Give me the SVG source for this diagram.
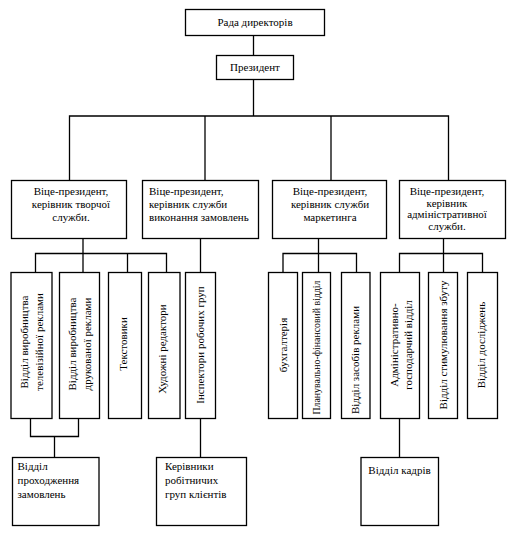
<svg xmlns="http://www.w3.org/2000/svg" width="507" height="535" viewBox="0 0 507 535" font-family="'Liberation Serif', 'Times New Roman', serif" font-size="11">
<style>
rect{fill:#fff;stroke:#000;stroke-width:1.3}
.c line,.c polyline{stroke:#000;stroke-width:1.3;fill:none}
text{font-family:'Liberation Serif','Times New Roman',serif;font-size:11px;fill:#000}
.m{text-anchor:middle}
</style>
<rect x="0" y="0" width="507" height="535" style="stroke:none"/>
<g class="c" id="connectors">
<line x1="253.5" y1="35" x2="253.5" y2="55"/>
<line x1="253.5" y1="79" x2="253.5" y2="116"/>
<polyline points="69.5,180 69.5,116 448.5,116 448.5,180"/>
<line x1="205" y1="116" x2="205" y2="180"/>
<line x1="331" y1="116" x2="331" y2="180"/>
<line x1="83" y1="238" x2="83" y2="253.5"/>
<polyline points="35.5,272 35.5,253.5 166.5,253.5 166.5,272"/>
<line x1="83" y1="253.5" x2="83" y2="272"/>
<line x1="127.5" y1="253.5" x2="127.5" y2="272"/>
<line x1="200.5" y1="238" x2="200.5" y2="272"/>
<line x1="318.5" y1="238" x2="318.5" y2="272"/>
<polyline points="283,272 283,253.5 356.5,253.5 356.5,272"/>
<line x1="443.5" y1="238" x2="443.5" y2="272"/>
<polyline points="399.5,272 399.5,253.5 482.5,253.5 482.5,272"/>
<polyline points="30.5,418 30.5,436.5 78.5,436.5 78.5,418"/>
<line x1="54.5" y1="436.5" x2="54.5" y2="457"/>
<line x1="200.5" y1="418" x2="200.5" y2="457"/>
<line x1="399.5" y1="418" x2="399.5" y2="457"/>
</g>
<g id="rada"><rect x="185.5" y="9.5" width="139" height="26"/><text class="m" x="255" y="26">Рада директорів</text></g>
<g id="president"><rect x="216.5" y="55.5" width="77" height="24"/><text class="m" x="255" y="71">Президент</text></g>
<g id="vp1"><rect x="11.5" y="180.5" width="115" height="58"/><text class="m" x="71" y="195">Віце-президент,</text><text class="m" x="71" y="208">керівник творчої</text><text class="m" x="71" y="221">служби.</text></g>
<g id="vp2"><rect x="142.5" y="180.5" width="116" height="58"/><text x="149" y="195">Віце-президент,</text><text x="149" y="208">керівник служби</text><text x="149" y="221">виконання замовлень</text></g>
<g id="vp3"><rect x="272.5" y="180.5" width="114" height="58"/><text class="m" x="330" y="195">Віце-президент,</text><text class="m" x="330" y="208">керівник служби</text><text class="m" x="330" y="221">маркетинга</text></g>
<g id="vp4"><rect x="399.5" y="180.5" width="106" height="58"/><text class="m" x="447" y="195">Віце-президент,</text><text class="m" x="447" y="207">керівник</text><text class="m" x="447" y="218">адміністративної</text><text class="m" x="447" y="230">служби.</text></g>
<g id="tv"><rect x="11" y="272.5" width="41" height="146"/><g transform="translate(31.7,342) rotate(-90)"><text class="m" x="0" y="-4">Відділ виробництва</text><text class="m" x="0" y="11">телевізійної реклами</text></g></g>
<g id="print"><rect x="59.5" y="272.5" width="40" height="146"/><g transform="translate(80,344) rotate(-90)"><text class="m" x="0" y="-4">Відділ виробництва</text><text class="m" x="0" y="11">друкованої реклами</text></g></g>
<g id="text"><rect x="108.5" y="272.5" width="33" height="146"/><g transform="translate(123.5,344) rotate(-90)"><text class="m" x="0" y="3.5">Текстовики</text></g></g>
<g id="art"><rect x="148.5" y="272.5" width="31.5" height="146"/><g transform="translate(162.7,349) rotate(-90)"><text class="m" x="0" y="3.5">Художні редактори</text></g></g>
<g id="insp"><rect x="185.5" y="272.5" width="30" height="146"/><g transform="translate(200,345) rotate(-90)"><text class="m" x="0" y="3.5">Інспектори робочих груп</text></g></g>
<g id="buh"><rect x="268.5" y="272.5" width="29" height="146"/><g transform="translate(283.3,345) rotate(-90)"><text class="m" x="0" y="3.5">бухгалтерія</text></g></g>
<g id="plan"><rect x="302.5" y="272.5" width="28" height="146"/><g transform="translate(316,347.5) rotate(-90)"><text class="m" x="0" y="3.5" textLength="134" lengthAdjust="spacingAndGlyphs">Планувально-фінансовий відділ</text></g></g>
<g id="media"><rect x="341.5" y="272.5" width="28.5" height="146"/><g transform="translate(355,360) rotate(-90)"><text class="m" x="0" y="3.5">Відділ засобів реклами</text></g></g>
<g id="admin"><rect x="380.5" y="272.5" width="39" height="146"/><g transform="translate(401,345) rotate(-90)"><text class="m" x="0" y="-3.5">Адміністративно-</text><text class="m" x="0" y="10.5">господарчий відділ</text></g></g>
<g id="sales"><rect x="428.5" y="272.5" width="29" height="146"/><g transform="translate(443.3,345) rotate(-90)"><text class="m" x="0" y="3.5">Відділ стимулювання збуту</text></g></g>
<g id="research"><rect x="467.5" y="272.5" width="30" height="146"/><g transform="translate(481.7,345) rotate(-90)"><text class="m" x="0" y="3.5">Відділ досліджень</text></g></g>
<g id="orders"><rect x="12.5" y="457.5" width="86.5" height="68"/><text x="17.5" y="470">Відділ</text><text x="17.5" y="484">проходження</text><text x="17.5" y="497.5">замовлень</text></g>
<g id="leaders"><rect x="156.5" y="457.5" width="90" height="68"/><text x="165" y="470">Керівники</text><text x="165" y="484">робітничих</text><text x="165" y="497.5">груп клієнтів</text></g>
<g id="hr"><rect x="361" y="457.5" width="77.5" height="68"/><text class="m" x="399.5" y="473.5">Відділ кадрів</text></g>
</svg>
